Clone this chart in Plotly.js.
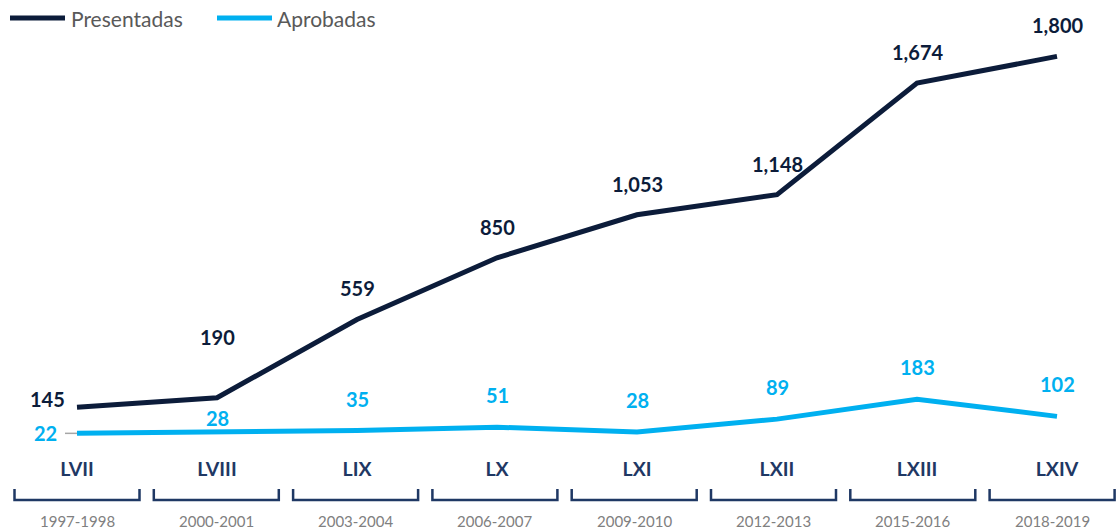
<!DOCTYPE html>
<html>
<head>
<meta charset="utf-8">
<script src="https://cdn.plot.ly/plotly-3.0.1.min.js"></script>
<style>html,body{margin:0;padding:0;background:#fff;}#chart{width:1118px;height:531px;}</style>
</head>
<body>
<div id="chart"></div>
<script>
const categories = ['LVII','LVIII','LIX','LX','LXI','LXII','LXIII','LXIV'];
const years = ['1997-1998','2000-2001','2003-2004','2006-2007','2009-2010','2012-2013','2015-2016','2018-2019'];
const presentadas = [145,190,559,850,1053,1148,1674,1800];
const aprobadas = [22,28,35,51,28,89,183,102];
const seriesNames = ['Presentadas','Aprobadas'];

const W = 1118, H = 531, MT = 14, MB = 93;
const plotH = H - MT - MB;
const FONT = 'Lato, "Open Sans", sans-serif';
const C_DARK = '#0c1c3a';
const C_BLUE = '#00b0f0';
const C_NAVY = '#1f3864';
const xs = categories.map((_, i) => i);
const fmt = v => v.toLocaleString('en-US');
const pyPaper = px => (H - MB - px) / plotH; // pixel y -> paper y
const pxPaper = px => px / W;

const traces = [
  {x: xs, y: presentadas, name: seriesNames[0], type: 'scatter', mode: 'lines',
   line: {color: C_DARK, width: 5}, hoverinfo: 'y', showlegend: false},
  {x: xs, y: aprobadas, name: seriesNames[1], type: 'scatter', mode: 'lines',
   line: {color: C_BLUE, width: 5}, hoverinfo: 'y', showlegend: false}
];

const annotations = [];
presentadas.forEach((v, i) => {
  let xshift = 0, yshift = 31;
  if (i === 0) { xshift = -30; yshift = 8; }
  if (i === 1) { yshift = 61; }
  annotations.push({x: i, y: v, xref: 'x', yref: 'y', text: '<b>' + fmt(v) + '</b>',
    showarrow: false, xshift: xshift, yshift: yshift,
    font: {family: FONT, size: 20, color: C_DARK}});
});
aprobadas.forEach((v, i) => {
  let xshift = 0, yshift = 32;
  if (i === 0) { xshift = -32; yshift = 0; }
  if (i === 1) { yshift = 14; }
  annotations.push({x: i, y: v, xref: 'x', yref: 'y', text: '<b>' + fmt(v) + '</b>',
    showarrow: false, xshift: xshift, yshift: yshift,
    font: {family: FONT, size: 20, color: C_BLUE}});
});

// group (bracket) centres sit slightly tighter than the data points
const groupX = i => i * 0.995;
years.forEach((t, i) => {
  annotations.push({x: groupX(i), y: pyPaper(521), xref: 'x', yref: 'paper', text: t,
    showarrow: false, yanchor: 'middle',
    font: {family: FONT, size: 15, color: '#808080'}});
});

// custom legend
const legendItems = [
  {name: seriesNames[0], color: C_DARK, x0: 10, x1: 65, tx: 69},
  {name: seriesNames[1], color: C_BLUE, x0: 217, x1: 272, tx: 275}
];
const shapes = [];
legendItems.forEach(it => {
  shapes.push({type: 'line', xref: 'paper', yref: 'paper',
    x0: pxPaper(it.x0), x1: pxPaper(it.x1), y0: pyPaper(18), y1: pyPaper(18),
    line: {color: it.color, width: 5}});
  annotations.push({xref: 'paper', yref: 'paper', x: pxPaper(it.tx), y: pyPaper(18),
    xanchor: 'left', yanchor: 'middle', text: it.name, showarrow: false,
    font: {family: FONT, size: 21, color: '#595959'}});
});

// brackets under categories
const half = 62.5 / 140;
const yb0 = pyPaper(489), yb1 = pyPaper(500);
xs.forEach(i => {
  const c = groupX(i);
  shapes.push({type: 'path', xref: 'x', yref: 'paper',
    path: `M ${c - half},${yb0} L ${c - half},${yb1} L ${c + half},${yb1} L ${c + half},${yb0}`,
    line: {color: C_NAVY, width: 2.5}});
});
// leader line for first Aprobadas label
shapes.push({type: 'line', xref: 'x', yref: 'y', x0: -12 / 140, x1: 0, y0: aprobadas[0], y1: aprobadas[0],
  line: {color: '#a6a6a6', width: 1.5}, layer: 'below'});

const layout = {
  width: W, height: H,
  margin: {l: 0, r: 0, t: MT, b: MB, pad: 0},
  paper_bgcolor: '#ffffff', plot_bgcolor: '#ffffff',
  showlegend: false,
  xaxis: {range: [-77 / 140, -77 / 140 + W / 140], tickvals: xs,
    ticktext: categories.map(c => '<b>' + c + '</b>'),
    showgrid: false, zeroline: false, showline: false, ticks: '',
    ticklabelstandoff: 17,
    tickfont: {family: FONT, size: 19.5, color: C_NAVY}, fixedrange: true},
  yaxis: {range: [0, 2000], visible: false, showgrid: false, zeroline: false, fixedrange: true},
  annotations: annotations,
  shapes: shapes
};

Plotly.newPlot('chart', traces, layout, {displayModeBar: false, staticPlot: true});
</script>
</body>
</html>
